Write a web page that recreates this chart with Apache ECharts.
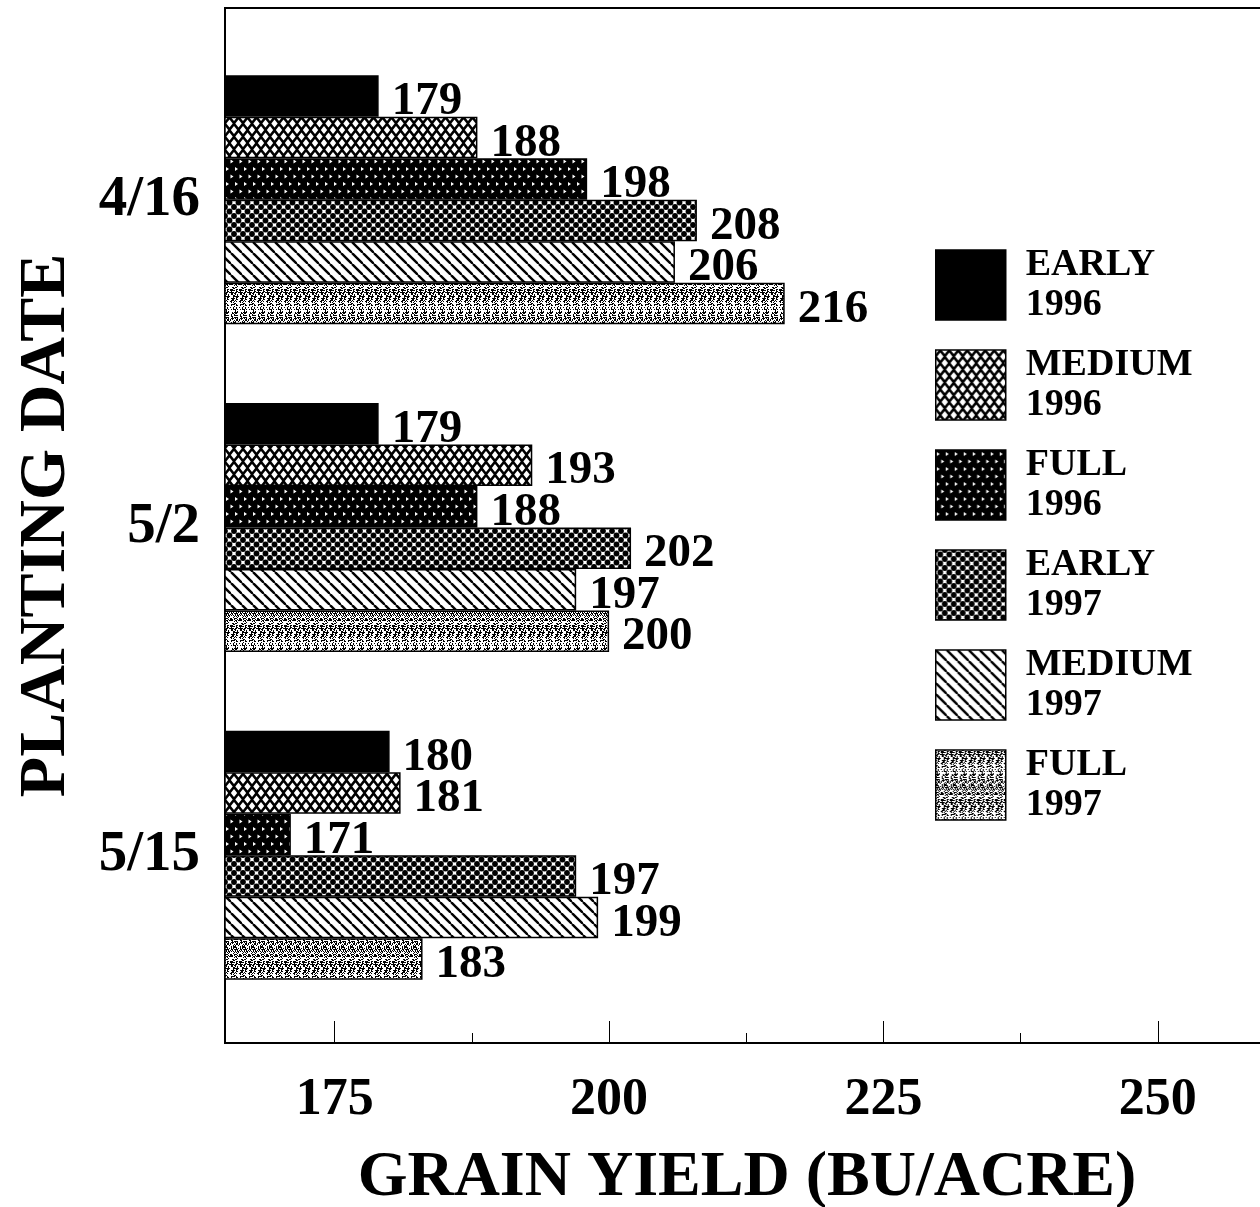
<!DOCTYPE html>
<html>
<head>
<meta charset="utf-8">
<script src="https://cdn.jsdelivr.net/npm/echarts@6/dist/echarts.min.js"></script>
<style>
  html, body { margin: 0; padding: 0; background: #fff; }
  #chart { width: 1260px; height: 1207px; }
</style>
</head>
<body>
<div id="chart"></div>
<script>
// planting dates (top to bottom)
const dates = ["4/16", "5/2", "5/15"];

// grain yield per treatment, one value per planting date
const early96 = [179, 179, 180];
const medium96 = [188, 193, 181];
const full96 = [198, 188, 171];
const early97 = [208, 202, 197];
const medium97 = [206, 197, 199];
const full97 = [216, 200, 183];

const seriesNames = ["EARLY 1996", "MEDIUM 1996", "FULL 1996", "EARLY 1997", "MEDIUM 1997", "FULL 1997"];
const seriesData = [early96, medium96, full96, early97, medium97, full97];

const majorTicks = [175, 200, 225, 250];
const minorTicks = [187.5, 212.5, 237.5];

const FONT = "'Liberation Serif', 'Times New Roman', serif";

// --- hatch patterns, drawn once on small canvases ---
function tile(w, h, draw) {
  const c = document.createElement("canvas");
  c.width = w;
  c.height = h;
  const ctx = c.getContext("2d");
  draw(ctx, w, h);
  return { image: c, repeat: "repeat" };
}

function diamond(ctx, cx, cy, rx, ry) {
  ctx.beginPath();
  ctx.moveTo(cx - rx, cy);
  ctx.lineTo(cx, cy - ry);
  ctx.lineTo(cx + rx, cy);
  ctx.lineTo(cx, cy + ry);
  ctx.closePath();
  ctx.fill();
}

const patterns = [
  "#000",
  // crosshatch with white diamonds
  tile(9, 13, (ctx, w, h) => {
    ctx.fillStyle = "#000";
    ctx.fillRect(0, 0, w, h);
    ctx.fillStyle = "#fff";
    [[0, 0], [w, 0], [0, h], [w, h], [w / 2, h / 2]].forEach(p => diamond(ctx, p[0], p[1], 3.2, 3.9));
  }),
  // dark with small white triangles
  tile(9, 15, (ctx, w, h) => {
    ctx.fillStyle = "#000";
    ctx.fillRect(0, 0, w, h);
    ctx.fillStyle = "#fff";
    [[1, 2], [5.5, 9.5]].forEach(p => {
      ctx.beginPath();
      ctx.moveTo(p[0], p[1]);
      ctx.lineTo(p[0] + 3, p[1] + 2);
      ctx.lineTo(p[0], p[1] + 4);
      ctx.closePath();
      ctx.fill();
    });
  }),
  // honeycomb of black dots
  tile(9, 9, (ctx, w, h) => {
    ctx.fillStyle = "#fff";
    ctx.fillRect(0, 0, w, h);
    ctx.fillStyle = "#000";
    [[0, 0], [w, 0], [0, h], [w, h], [w / 2, h / 2]].forEach(p => {
      ctx.beginPath();
      ctx.arc(p[0], p[1], 2.9, 0, Math.PI * 2);
      ctx.fill();
    });
  }),
  // diagonal lines
  tile(11, 11, (ctx, w, h) => {
    ctx.fillStyle = "#fff";
    ctx.fillRect(0, 0, w, h);
    ctx.strokeStyle = "#000";
    ctx.lineWidth = 2.4;
    [[-w, 0], [0, 0], [w, 0]].forEach(o => {
      ctx.beginPath();
      ctx.moveTo(o[0], 0);
      ctx.lineTo(o[0] + w, h);
      ctx.stroke();
    });
  }),
  // grey stipple with faint vertical banding
  tile(9, 48, (ctx, w, h) => {
    const img = ctx.createImageData(w, h);
    for (let y = 0; y < h; y++) {
      for (let x = 0; x < w; x++) {
        const hsh = ((x * 73856093) ^ (y * 19349663) ^ (x * y * 83492791)) >>> 0;
        const limit = (x === 4 || x === 5) ? 22 : 48;
        const v = (hsh % 100) < limit ? 0 : 255;
        const i = (y * w + x) * 4;
        img.data[i] = img.data[i + 1] = img.data[i + 2] = v;
        img.data[i + 3] = 255;
      }
    }
    ctx.putImageData(img, 0, 0);
  })
];

const chart = echarts.init(document.getElementById("chart"), null, { renderer: "canvas" });

const series = seriesNames.map((name, i) => ({
  name: name,
  type: "bar",
  xAxisIndex: 1,
  yAxisIndex: 1,
  barWidth: 41.5,
  barGap: "0%",
  data: seriesData[i],
  itemStyle: {
    color: patterns[i],
    borderColor: "#000",
    borderWidth: 1.5
  },
  label: {
    show: true,
    position: "right",
    distance: 13,
    offset: [0, 6],
    color: "#000",
    fontFamily: FONT,
    fontWeight: "bold",
    fontSize: 47
  }
}));

const option = {
  backgroundColor: "#fff",
  animation: false,
  grid: [
    // frame with the value axis
    { left: 225, right: -35, top: 8, bottom: 164, show: true, borderColor: "#000", borderWidth: 2, outerBoundsMode: "none", containLabel: false },
    // bar area
    { left: 225, right: -35, top: 36, bottom: 188, outerBoundsMode: "none", containLabel: false }
  ],
  xAxis: [
    {
      type: "value",
      gridIndex: 0,
      min: 165,
      max: 262.5,
      name: "GRAIN YIELD (BU/ACRE)",
      nameLocation: "middle",
      nameGap: 103,
      nameTextStyle: { fontFamily: FONT, fontWeight: "bold", fontSize: 64, color: "#000", padding: [0, 26, 0, 0] },
      axisLine: { show: true, lineStyle: { color: "#000", width: 2 } },
      axisTick: { show: true, inside: true, length: 22, customValues: majorTicks, lineStyle: { color: "#000", width: 1 } },
      axisLabel: { show: true, customValues: majorTicks, margin: 32, color: "#000", fontFamily: FONT, fontWeight: "bold", fontSize: 52 },
      splitLine: { show: false }
    },
    {
      type: "value",
      gridIndex: 1,
      min: 165,
      max: 262.5,
      show: false
    },
    {
      type: "value",
      gridIndex: 0,
      position: "bottom",
      min: 165,
      max: 262.5,
      axisLine: { show: false },
      axisTick: { show: true, inside: true, length: 10, customValues: minorTicks, lineStyle: { color: "#000", width: 1 } },
      axisLabel: { show: false },
      splitLine: { show: false }
    }
  ],
  yAxis: [
    {
      type: "value",
      gridIndex: 0,
      min: 0,
      max: 1,
      name: "PLANTING DATE",
      nameLocation: "middle",
      nameGap: 145,
      nameRotate: 90,
      nameTextStyle: { fontFamily: FONT, fontWeight: "bold", fontSize: 66, color: "#000" },
      axisLine: { show: true, lineStyle: { color: "#000", width: 2 } },
      axisTick: { show: false },
      axisLabel: { show: false },
      splitLine: { show: false }
    },
    {
      type: "category",
      gridIndex: 1,
      data: dates,
      inverse: true,
      axisLine: { show: false },
      axisTick: { show: false },
      axisLabel: { margin: 25, color: "#000", fontFamily: FONT, fontWeight: "bold", fontSize: 57, padding: [14, 0, 0, 0] }
    }
  ],
  legend: {
    orient: "vertical",
    left: 930,
    top: 240,
    itemWidth: 70,
    itemHeight: 70,
    itemGap: 20,
    icon: "rect",
    selectedMode: false,
    data: seriesNames,
    formatter: name => name.replace(" ", "\n"),
    textStyle: { color: "#000", fontFamily: FONT, fontWeight: "bold", fontSize: 38, lineHeight: 40, padding: [0, 0, 0, 15] },
    itemStyle: { borderColor: "#000", borderWidth: 1.5 }
  },
  series: series
};

chart.setOption(option);
</script>
</body>
</html>
